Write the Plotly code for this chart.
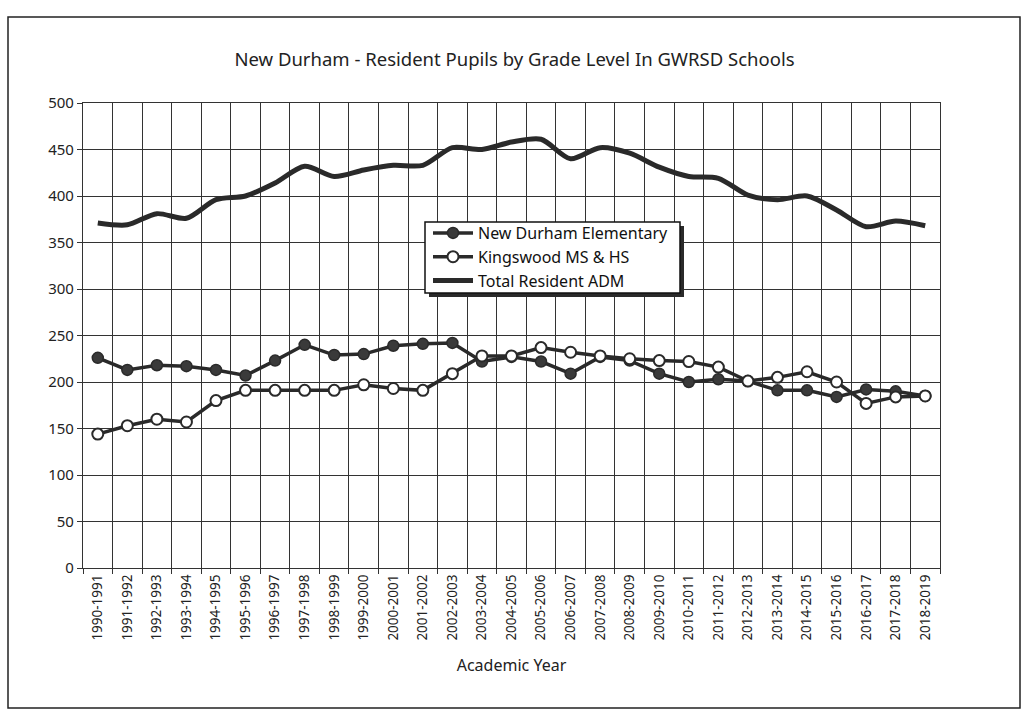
import plotly.graph_objects as go

years = ["1990-1991","1991-1992","1992-1993","1993-1994","1994-1995","1995-1996","1996-1997",
         "1997-1998","1998-1999","1999-2000","2000-2001","2001-2002","2002-2003","2003-2004",
         "2004-2005","2005-2006","2006-2007","2007-2008","2008-2009","2009-2010","2010-2011",
         "2011-2012","2012-2013","2013-2014","2014-2015","2015-2016","2016-2017","2017-2018",
         "2018-2019"]

elementary = [226, 213, 218, 217, 213, 207, 223, 240, 229, 230, 239, 241, 242, 222, 227, 222, 209,
              227, 223, 209, 200, 203, 201, 191, 191, 184, 192, 190, 185]
kingswood = [144, 153, 160, 157, 180, 191, 191, 191, 191, 197, 193, 191, 209, 228, 228, 237, 232,
             228, 225, 223, 222, 216, 201, 205, 211, 200, 177, 184, 185]
total = [371, 369, 381, 376, 396, 400, 414, 432, 421, 428, 433, 433, 452, 450, 458, 461, 440,
         452, 446, 431, 421, 419, 401, 396, 400, 385, 367, 373, 368]

dark = "#2a2a2a"
font = "Noto Sans"

fig = go.Figure()
fig.add_trace(go.Scatter(
    x=years, y=elementary, name="New Durham Elementary", mode="lines+markers",
    line=dict(color=dark, width=3.5),
    marker=dict(symbol="circle", size=11, color="#3a3a3a", line=dict(color=dark, width=1.5))))
fig.add_trace(go.Scatter(
    x=years, y=kingswood, name="Kingswood MS & HS", mode="lines+markers",
    line=dict(color=dark, width=3.5),
    marker=dict(symbol="circle", size=11, color="white", line=dict(color=dark, width=2))))
fig.add_trace(go.Scatter(
    x=years, y=total, name="Total Resident ADM", mode="lines",
    line=dict(color=dark, width=5, shape="spline", smoothing=0.8)))

def px(x):
    return (x - 83) / 857

def py(y):
    return (568 - y) / 465

fig.update_layout(
    width=1027, height=713,
    margin=dict(l=83, r=87, t=103, b=145),
    paper_bgcolor="white", plot_bgcolor="white",
    font=dict(family=font, color="#222", size=13),
    title=dict(text="New Durham - Resident Pupils by Grade Level In GWRSD Schools",
               x=(229 + 800) / 2 / 1027, xanchor="center", y=1 - 60 / 713, yanchor="middle",
               font=dict(size=18.5, family=font, color="#222")),
    showlegend=True,
    legend=dict(x=px(428), y=py(216), xanchor="left", yanchor="top",
                bgcolor="rgba(0,0,0,0)", borderwidth=0,
                font=dict(size=16, family=font, color="#111"),
                tracegroupgap=0, itemwidth=40),
    xaxis=dict(type="category", range=[-0.5, 28.5], autorange=False,
               tickson="boundaries", showgrid=True, gridcolor="#333", gridwidth=1.2,
               ticks="outside", ticklen=5, tickcolor="#333", tickangle=-90,
               tickfont=dict(size=13.5, family=font, color="#222"),
               showline=True, linecolor="#333", linewidth=1.2, mirror=True,
               title=dict(text="Academic Year", font=dict(size=16, family=font, color="#222"),
                          standoff=20)),
    yaxis=dict(range=[0, 500], dtick=50, showgrid=True, gridcolor="#333", gridwidth=1.2,
               ticks="outside", ticklen=5, tickcolor="#333",
               tickfont=dict(size=15, family=font, color="#222"),
               showline=True, linecolor="#333", linewidth=1.2, mirror=True, zeroline=False),
)

# legend drop shadow and box
fig.add_shape(type="rect", xref="paper", yref="paper",
              x0=px(429), x1=px(684), y0=py(297), y1=py(226),
              line=dict(width=0), fillcolor="#2a2a2a", layer="above")
fig.add_shape(type="rect", xref="paper", yref="paper",
              x0=px(425), x1=px(680), y0=py(293), y1=py(222),
              line=dict(color="#111", width=1.5), fillcolor="white", layer="above")

# outer chart border
fig.add_shape(type="rect", xref="paper", yref="paper",
              x0=px(8), x1=px(1020), y0=py(708), y1=py(17),
              line=dict(color="#222", width=1.5), fillcolor="rgba(0,0,0,0)", layer="above")

fig.write_html("out.html", config={"displayModeBar": False},
               post_script="document.body.style.margin='0';document.body.style.overflow='hidden';")
